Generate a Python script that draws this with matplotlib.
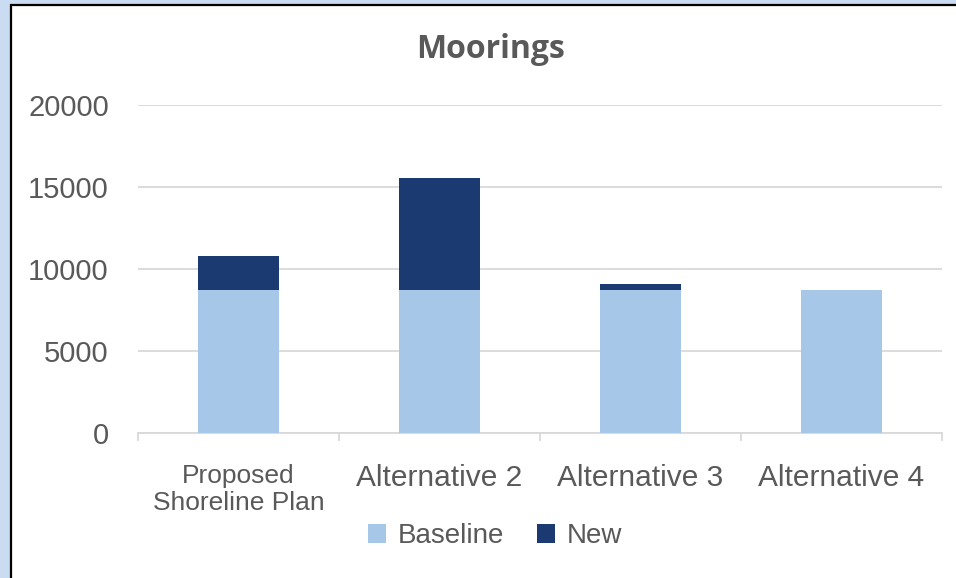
import matplotlib.pyplot as plt
import numpy as np
from matplotlib.patches import Rectangle

categories = ["Proposed\nShoreline Plan", "Alternative 2", "Alternative 3", "Alternative 4"]
baseline = [8700, 8700, 8700, 8700]
new = [2100, 6850, 370, 0]
yticks = [0, 5000, 10000, 15000, 20000]

light = "#a7c7e8"
dark = "#1b3a71"
txt = "#595959"

fig = plt.figure(figsize=(9.56, 5.78), dpi=100)
fig.patch.set_facecolor("#c9dcf2")
# chart frame (white area with black border on left/top)
frame = Rectangle((10.5 / 956, -0.05), 1.2, 1 - 5 / 578 + 0.05, transform=fig.transFigure,
                  facecolor="white", edgecolor="black", lw=1.6, zorder=-10)
fig.patches.append(frame)

ax = fig.add_axes([138 / 956, 1 - 433 / 578, (942 - 138) / 956, (433 - 105) / 578])
ax.set_zorder(2)
ax.set_facecolor("none")
x = np.arange(len(categories))
ax.bar(x, baseline, width=0.4, color=light, label="Baseline", zorder=3)
ax.bar(x, new, width=0.4, bottom=baseline, color=dark, label="New", zorder=3)

ax.set_xlim(-0.5, len(categories) - 0.5)
ax.set_ylim(0, 20000)
ax.set_yticks(yticks)
ax.yaxis.grid(True, color="#d9d9d9", lw=1.3, zorder=0)
for s in ["top", "right", "left"]:
    ax.spines[s].set_visible(False)
ax.spines["bottom"].set_color("#d9d9d9")
ax.spines["bottom"].set_linewidth(1.3)

ax.tick_params(axis="y", length=0, pad=21, labelsize=21, labelcolor=txt)
ax.set_yticklabels([str(v) for v in yticks], fontfamily="Liberation Sans")
ax.set_xticks(x)
ax.set_xticklabels(categories, fontfamily="Liberation Sans")
ax.tick_params(axis="x", which="major", length=0, pad=22, labelsize=21.5, labelcolor=txt)
ax.set_xticks(np.arange(-0.5, len(categories)), minor=True)
ax.tick_params(axis="x", which="minor", length=6, width=1.3, color="#d9d9d9")
ax.get_xticklabels()[0].set_fontsize(19)
ax.get_xticklabels()[0].set_linespacing(1.2)

fig.text(491 / 956, 1 - 50 / 578, "Moorings", ha="center", va="center", fontsize=23,
         fontweight="bold", color=txt, fontfamily="Open Sans")

fig.legend(loc="center", bbox_to_anchor=(495 / 956, 1 - 536 / 578), ncol=2, frameon=False,
           prop={"family": "Liberation Sans", "size": 20}, labelcolor=txt,
           handlelength=0.65, handleheight=0.65, handletextpad=0.4, columnspacing=1.2)

fig.savefig("out.png", dpi=100, facecolor=fig.get_facecolor())
